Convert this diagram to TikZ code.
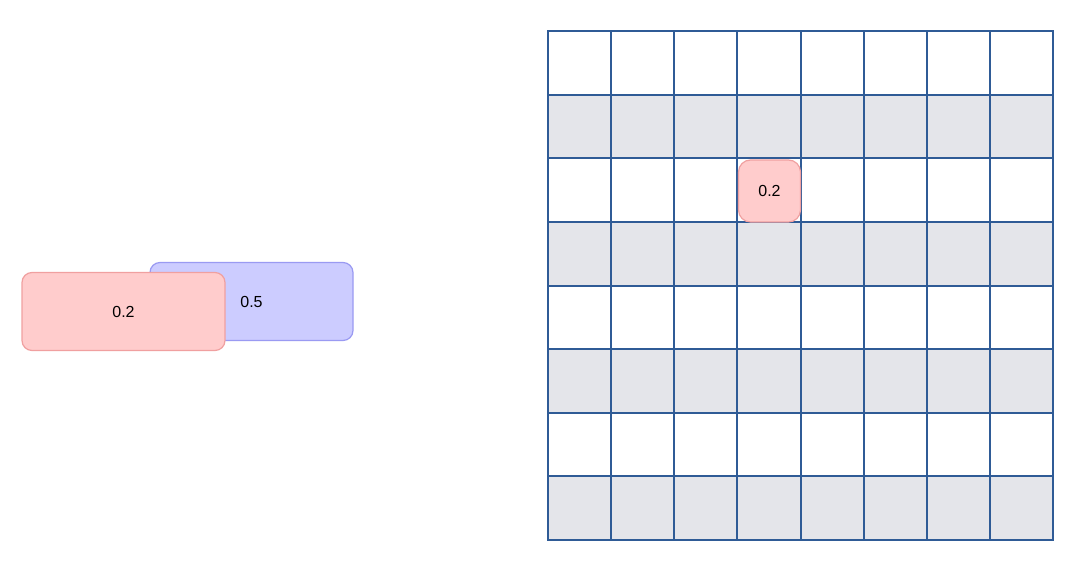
\documentclass[tikz,border=0pt]{standalone}
\usepackage{fontspec}
\setmainfont{Liberation Sans}
\usetikzlibrary{positioning}
\definecolor{redfill}{HTML}{FFCCCC}
\definecolor{redline}{HTML}{F0A0A0}
\definecolor{bluefill}{HTML}{CCCCFF}
\definecolor{blueline}{HTML}{9A9AF2}
\definecolor{rowgray}{HTML}{E4E5EA}
\definecolor{gridblue}{HTML}{2F5B96}

\begin{document}
\begin{tikzpicture}[
  x=0.5pt, y=-0.5pt,
  valbox/.style={draw, rounded corners=5pt, line width=0.6pt,
                 font=\fontsize{8}{9}\selectfont, inner sep=0pt},
  redbox/.style={valbox, fill=redfill, draw=redline},
  bluebox/.style={valbox, fill=bluefill, draw=blueline},
  gridline/.style={draw=gridblue, line width=1pt, line cap=rect}
]
  \useasboundingbox (0,0) rectangle (1080,567);

  % Overlapping pair
  \node[bluebox, minimum width=101.5pt, minimum height=39pt] (valb) at (251.5,301.5) {0.5};
  \node[redbox, minimum width=101.5pt, minimum height=39pt] (vala) at (123.5,311.5) {0.2};

  % Grid rows
  \foreach \r in {1,3,5,7}
    \fill[rowgray] (548,31+\r*63.625) rectangle (1053,31+\r*63.625+63.625);
  \foreach \i in {0,...,8} {
    \draw[gridline] (548+\i*63.125,31) -- (548+\i*63.125,540);
    \draw[gridline] (548,31+\i*63.625) -- (1053,31+\i*63.625);
  }

  % Value inside the grid
  \node[redbox, rounded corners=6pt, minimum width=31pt, minimum height=31pt] (cell) at (769.5,191) {0.2};
\end{tikzpicture}
\end{document}
